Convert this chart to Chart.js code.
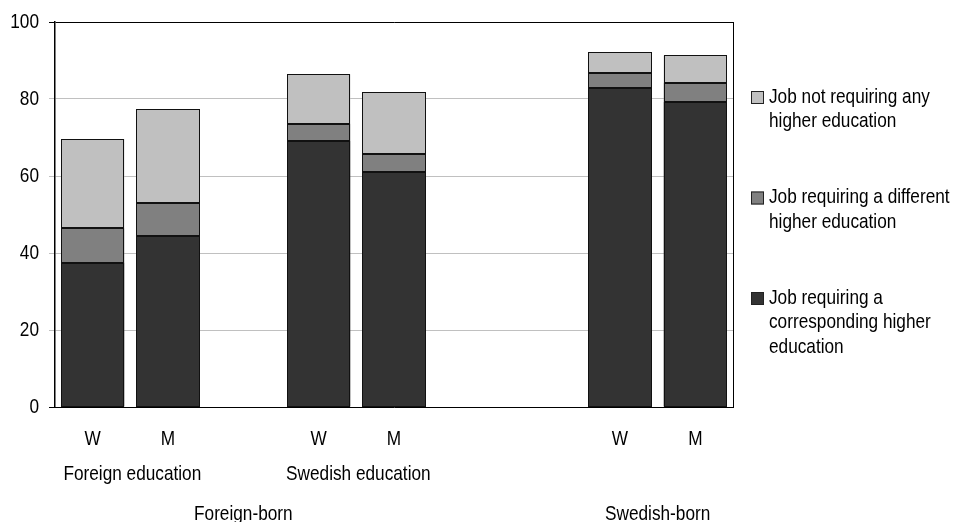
<!DOCTYPE html>
<html>
<head>
<meta charset="utf-8">
<script src="https://cdn.jsdelivr.net/npm/chart.js@4.4.0/dist/chart.umd.min.js"></script>
<style>
  html, body { margin: 0; padding: 0; background: #fff; }
  #wrap { width: 955px; height: 522px; }
</style>
</head>
<body>
<div id="wrap"><canvas id="grafico"></canvas></div>
<script>
// categorias (huecos vacios separan los grupos)
var categorias = ['W', 'M', '', 'W', 'M', '', '', 'W', 'M'];

// valores de cada tramo de la barra apilada
var correspondiente = [37.5, 44.5, null, 69.1, 61.0, null, null, 82.9, 79.2];
var diferente = [8.9, 8.5, null, 4.5, 4.8, null, null, 3.9, 5.0];
var ninguna = [23.2, 24.3, null, 12.8, 16.0, null, null, 5.3, 7.1];

// textos de la leyenda (partidos en lineas)
var leyendaCorrespondiente = ['Job requiring a', 'corresponding higher', 'education'];
var leyendaDiferente = ['Job requiring a different', 'higher education'];
var leyendaNinguna = ['Job not requiring any', 'higher education'];

// etiquetas de grupo: [texto, primer indice, ultimo indice]
var gruposEducacion = [['Foreign education', 0, 1], ['Swedish education', 3, 4]];
var gruposOrigen = [['Foreign-born', 0, 4], ['Swedish-born', 7, 8]];

var ejeY = [0, 100, 20]; // min, max, paso

var fuente = '"Liberation Sans", Arial, Helvetica, sans-serif';
Chart.defaults.font.family = fuente;
Chart.defaults.font.size = 21;
Chart.defaults.color = '#000';

// texto estrecho (no hay fuente "narrow" instalada, se comprime en horizontal)
function textoEstrecho(ctx, texto, x, y, align) {
  ctx.save();
  ctx.translate(x, y);
  ctx.scale(0.82, 1);
  ctx.textAlign = align;
  ctx.textBaseline = 'middle';
  ctx.fillText(texto, 0, 0);
  ctx.restore();
}

// bordes nitidos de las barras (se dibujan a pixel entero)
var bordes = {
  id: 'bordes',
  afterDatasetsDraw: function(chart) {
    var ctx = chart.ctx;
    ctx.save();
    ctx.strokeStyle = '#111';
    ctx.lineWidth = 1;
    chart.data.datasets.forEach(function(ds, i) {
      var meta = chart.getDatasetMeta(i);
      meta.data.forEach(function(bar, j) {
        if (ds.data[j] === null) return;
        var p = bar.getProps(['x', 'y', 'base', 'width'], true);
        var l = Math.round(p.x - p.width / 2) + 0.5;
        var r = Math.round(p.x + p.width / 2) - 0.5;
        var t = Math.round(Math.min(p.y, p.base)) + 0.5;
        var b = Math.round(Math.max(p.y, p.base)) - 0.5;
        ctx.strokeRect(l, t, r - l, b - t);
      });
    });
    ctx.restore();
  }
};

// plugin para borde derecho, etiquetas de ejes, leyenda y grupos
var extras = {
  id: 'extras',
  afterDraw: function(chart) {
    var ctx = chart.ctx;
    var area = chart.chartArea;
    var x = chart.scales.x;
    var y = chart.scales.y;

    ctx.save();
    ctx.strokeStyle = '#000';
    ctx.lineWidth = 1;
    ctx.beginPath();
    ctx.moveTo(Math.round(area.right) + 0.5, area.top);
    ctx.lineTo(Math.round(area.right) + 0.5, area.bottom);
    ctx.stroke();

    ctx.font = '21px ' + fuente;
    ctx.fillStyle = '#000';

    // etiquetas del eje Y
    y.ticks.forEach(function(t) {
      textoEstrecho(ctx, String(t.value), area.left - 16, y.getPixelForValue(t.value), 'right');
    });

    // etiquetas del eje X
    chart.data.labels.forEach(function(lab, i) {
      if (lab) textoEstrecho(ctx, lab, x.getPixelForValue(i), area.bottom + 32, 'center');
    });

    gruposEducacion.forEach(function(g) {
      var cx = (x.getPixelForValue(g[1]) + x.getPixelForValue(g[2])) / 2;
      textoEstrecho(ctx, g[0], cx + 2, area.bottom + 67, 'center');
    });
    gruposOrigen.forEach(function(g) {
      var cx = (x.getPixelForValue(g[1]) + x.getPixelForValue(g[2])) / 2;
      textoEstrecho(ctx, g[0], cx, area.bottom + 107, 'center');
    });

    // leyenda (orden inverso: de arriba hacia abajo)
    var items = chart.data.datasets.slice().reverse();
    var yy = area.top + 75;
    items.forEach(function(ds) {
      ctx.fillStyle = ds.backgroundColor;
      ctx.fillRect(Math.round(area.right) + 18, yy - 6, 13, 13);
      ctx.strokeStyle = '#222';
      ctx.strokeRect(Math.round(area.right) + 18.5, yy - 5.5, 12, 12);
      ctx.fillStyle = '#000';
      ds.lineas.forEach(function(l, i) {
        textoEstrecho(ctx, l, area.right + 36, yy + i * 24.5, 'left');
      });
      yy += (ds.lineas.length - 1) * 24.5 + 76;
    });
    ctx.restore();
  }
};

var ctxGrafico = document.getElementById('grafico').getContext('2d');
var grafico = new Chart(ctxGrafico, {
  type: 'bar',
  data: {
    labels: categorias,
    datasets: [{
      label: leyendaCorrespondiente.join(' '),
      lineas: leyendaCorrespondiente,
      data: correspondiente,
      backgroundColor: '#333333'
    }, {
      label: leyendaDiferente.join(' '),
      lineas: leyendaDiferente,
      data: diferente,
      backgroundColor: '#808080'
    }, {
      label: leyendaNinguna.join(' '),
      lineas: leyendaNinguna,
      data: ninguna,
      backgroundColor: '#c0c0c0'
    }]
  },
  options: {
    responsive: true,
    maintainAspectRatio: false,
    animation: false,
    layout: { padding: { top: 22, right: 222, left: 0, bottom: 0 } },
    plugins: {
      legend: { display: false },
      tooltip: { enabled: false }
    },
    datasets: {
      bar: { barPercentage: 0.84, categoryPercentage: 1, borderWidth: 0 }
    },
    scales: {
      x: {
        stacked: true,
        grid: { display: false, drawTicks: false },
        border: { display: true, color: '#000', width: 1 },
        ticks: { display: false },
        afterFit: function(scale) { scale.height = 115; }
      },
      y: {
        stacked: true,
        min: ejeY[0],
        max: ejeY[1],
        ticks: { stepSize: ejeY[2], display: false },
        grid: {
          color: function(c) {
            return (c.tick && (c.tick.value === ejeY[1])) ? '#000' : '#c0c0c0';
          },
          tickColor: function(c) {
            return (c.tick && (c.tick.value === ejeY[1] || c.tick.value === ejeY[0])) ? '#000' : '#c0c0c0';
          },
          tickLength: 6,
          lineWidth: 1
        },
        border: { display: true, color: '#000', width: 1.5 },
        afterFit: function(scale) { scale.width = 55; }
      }
    }
  },
  plugins: [bordes, extras]
});
</script>
</body>
</html>
